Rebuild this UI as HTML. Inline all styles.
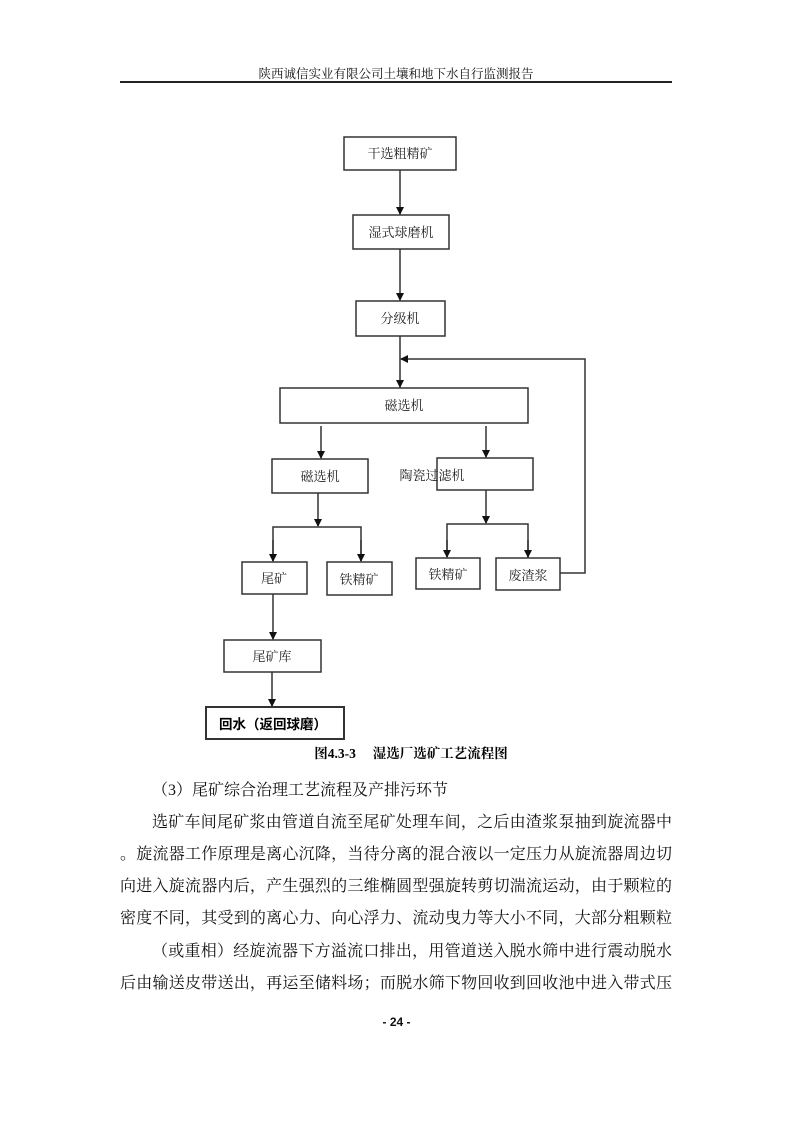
<!DOCTYPE html>
<html><head><meta charset="utf-8"><style>
html,body{margin:0;padding:0;background:#fff;}
body{width:793px;height:1122px;position:relative;overflow:hidden;font-family:"Liberation Serif","Noto Serif CJK SC",serif;color:#111;}
.hd{position:absolute;top:64px;left:120px;width:552px;text-align:center;font-size:12.5px;}
.hl{position:absolute;top:81px;left:120px;width:552px;height:1.5px;background:#222;}
.ln{position:absolute;font-size:16px;height:20px;line-height:20px;white-space:nowrap;text-align:justify;text-align-last:justify;}
.pg{position:absolute;top:1015px;left:0;width:793px;text-align:center;font-family:"Liberation Sans",sans-serif;font-size:12px;font-weight:bold;}
</style></head><body>
<div class="hd">陕西诚信实业有限公司土壤和地下水自行监测报告</div>
<div class="hl"></div>
<svg width="793" height="1122" style="position:absolute;left:0;top:0" xmlns="http://www.w3.org/2000/svg">
<defs><marker id="a" markerWidth="8" markerHeight="8" refX="7" refY="4" orient="auto" markerUnits="userSpaceOnUse"><path d="M0,0 L8,4 L0,8 z" fill="#111"/></marker></defs>
<g fill="none" stroke="#333" stroke-width="1.5">
<rect x="344" y="137" width="112" height="33"/>
<rect x="353" y="215" width="96" height="34"/>
<rect x="356" y="301" width="89" height="35"/>
<rect x="280" y="388" width="248" height="35"/>
<rect x="272" y="459" width="96" height="34"/>
<rect x="437" y="458" width="96" height="32"/>
<rect x="242" y="562" width="65" height="32"/>
<rect x="327" y="562" width="65" height="33"/>
<rect x="416" y="558" width="64" height="31"/>
<rect x="496" y="558" width="64" height="32"/>
<rect x="224" y="640" width="97" height="32"/>
<rect x="206" y="707" width="138" height="32" stroke-width="2"/>
</g>
<g stroke="#333" stroke-width="1.5" fill="none">
<line x1="400" y1="170" x2="400" y2="214" marker-end="url(#a)"/>
<line x1="400" y1="249" x2="400" y2="300" marker-end="url(#a)"/>
<line x1="400" y1="336" x2="400" y2="387" marker-end="url(#a)"/>
<polyline points="560,573 585,573 585,359 401,359" marker-end="url(#a)"/>
<line x1="321" y1="426" x2="321" y2="458" marker-end="url(#a)"/>
<line x1="486" y1="426" x2="486" y2="457" marker-end="url(#a)"/>
<line x1="318" y1="493" x2="318" y2="526" marker-end="url(#a)"/>
<polyline points="273,561 273,527 361,527 361,561"/>
<line x1="273" y1="540" x2="273" y2="561" marker-end="url(#a)"/>
<line x1="361" y1="540" x2="361" y2="561" marker-end="url(#a)"/>
<line x1="486" y1="490" x2="486" y2="523" marker-end="url(#a)"/>
<polyline points="447,557 447,524 528,524 528,557"/>
<line x1="447" y1="540" x2="447" y2="557" marker-end="url(#a)"/>
<line x1="528" y1="540" x2="528" y2="557" marker-end="url(#a)"/>
<line x1="273" y1="594" x2="273" y2="639" marker-end="url(#a)"/>
<line x1="272" y1="672" x2="272" y2="706" marker-end="url(#a)"/>
</g>
<g font-family="Liberation Serif, Noto Serif CJK SC, serif" font-size="13" fill="#222" text-anchor="middle">
<text x="400" y="158">干选粗精矿</text>
<text x="401" y="237">湿式球磨机</text>
<text x="400" y="323">分级机</text>
<text x="404" y="410">磁选机</text>
<text x="320" y="481">磁选机</text>
<text x="432" y="480">陶瓷过滤机</text>
<text x="274" y="583">尾矿</text>
<text x="359" y="584">铁精矿</text>
<text x="448" y="579">铁精矿</text>
<text x="528" y="580">废渣浆</text>
<text x="272" y="661">尾矿库</text>
<text x="273" y="729" font-family="Liberation Sans, Noto Sans CJK SC, sans-serif" font-weight="bold" font-size="13.5" fill="#000">回水（返回球磨）</text>
<text x="411" y="758" font-family="Liberation Serif, Noto Serif CJK SC, serif" font-weight="bold" font-size="13.5" fill="#000">图4.3-3　 湿选厂选矿工艺流程图</text>
</g>
</svg>
<div class="ln" style="left:152px;top:781px;text-align-last:left;">（3）尾矿综合治理工艺流程及产排污环节</div>
<div class="ln" style="left:152px;top:813px;width:520px;">选矿车间尾矿浆由管道自流至尾矿处理车间，之后由渣浆泵抽到旋流器中</div>
<div class="ln" style="left:120px;top:845px;width:552px;">。旋流器工作原理是离心沉降，当待分离的混合液以一定压力从旋流器周边切</div>
<div class="ln" style="left:120px;top:877px;width:552px;">向进入旋流器内后，产生强烈的三维椭圆型强旋转剪切湍流运动，由于颗粒的</div>
<div class="ln" style="left:120px;top:909px;width:552px;">密度不同，其受到的离心力、向心浮力、流动曳力等大小不同，大部分粗颗粒</div>
<div class="ln" style="left:152px;top:942px;width:520px;">（或重相）经旋流器下方溢流口排出，用管道送入脱水筛中进行震动脱水</div>
<div class="ln" style="left:120px;top:974px;width:552px;">后由输送皮带送出，再运至储料场；而脱水筛下物回收到回收池中进入带式压</div>
<div class="pg">- 24 -</div>
</body></html>
